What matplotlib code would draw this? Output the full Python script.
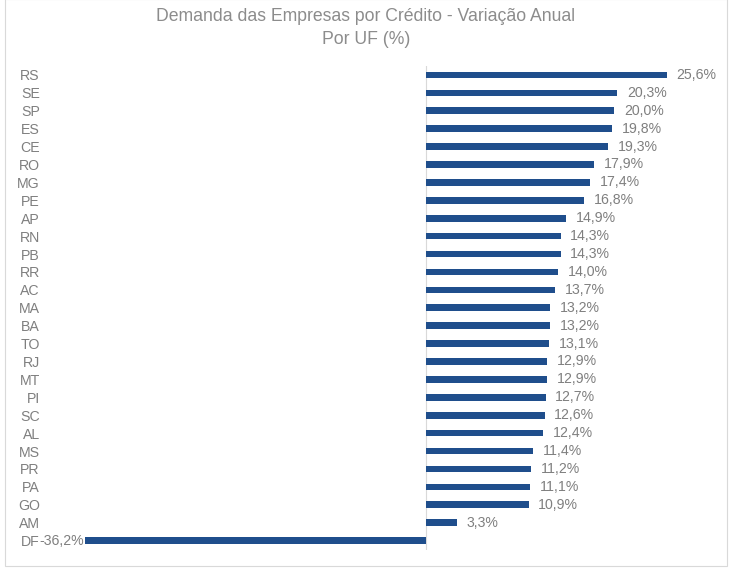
import matplotlib
matplotlib.use("Agg")
import matplotlib.pyplot as plt
from matplotlib.patches import Rectangle

states = ["RS", "SE", "SP", "ES", "CE", "RO", "MG", "PE", "AP", "RN", "PB", "RR", "AC",
          "MA", "BA", "TO", "RJ", "MT", "PI", "SC", "AL", "MS", "PR", "PA", "GO", "AM", "DF"]
values = [25.6, 20.3, 20.0, 19.8, 19.3, 17.9, 17.4, 16.8, 14.9, 14.3, 14.3, 14.0, 13.7,
          13.2, 13.2, 13.1, 12.9, 12.9, 12.7, 12.6, 12.4, 11.4, 11.2, 11.1, 10.9, 3.3, -36.2]
title = "Demanda das Empresas por Crédito - Variação Anual\nPor UF (%)"

plt.rcParams['font.family'] = ['Liberation Sans', 'DejaVu Sans']
W, H = 733, 570
fig = plt.figure(figsize=(W / 100, H / 100), dpi=100)

# frame
fig.patches.append(Rectangle((5 / W, 1 - 566 / H), 722 / W, 567 / H, transform=fig.transFigure,
                             fill=False, edgecolor="#d9d9d9", linewidth=0.8))

left, right, top, bottom = 85, 700, 66, 549.5
ax = fig.add_axes([left / W, 1 - bottom / H, (right - left) / W, (bottom - top) / H])
scale = 241 / 25.6
ax.set_xlim(-36.2, (right - 426) / scale)
n = len(states)
ax.set_ylim(n - 0.5, -0.5)

bar_color = "#1F4E8C"
text_color = "#7F7F7F"
ypos = list(range(n))
ax.barh(ypos, values, height=0.37, color=bar_color)
ax.axvline(0, color="#d9d9d9", linewidth=0.8, zorder=0)

for y, v in zip(ypos, values):
    lbl = f"{v:.1f}%".replace(".", ",")
    if v >= 0:
        ax.annotate(lbl, (v, y), xytext=(7, 0), textcoords="offset points", ha="left",
                    va="center", fontsize=10.2, color=text_color, annotation_clip=False)
    else:
        ax.annotate(lbl, (v, y), xytext=(-1, 0), textcoords="offset points", ha="right",
                    va="center", fontsize=10.2, color=text_color, annotation_clip=False)

ax.set_yticks(ypos)
ax.set_yticklabels(states, fontsize=10.2, color=text_color)
ax.tick_params(axis="y", length=0, pad=32.5)
ax.set_xticks([])
for s in ax.spines.values():
    s.set_visible(False)

fig.text(366 / W, 1 - 28 / H, title, ha="center", va="center", fontsize=12.7,
         color="#8C8C8C", linespacing=1.4)

fig.savefig("out.png", dpi=100)
